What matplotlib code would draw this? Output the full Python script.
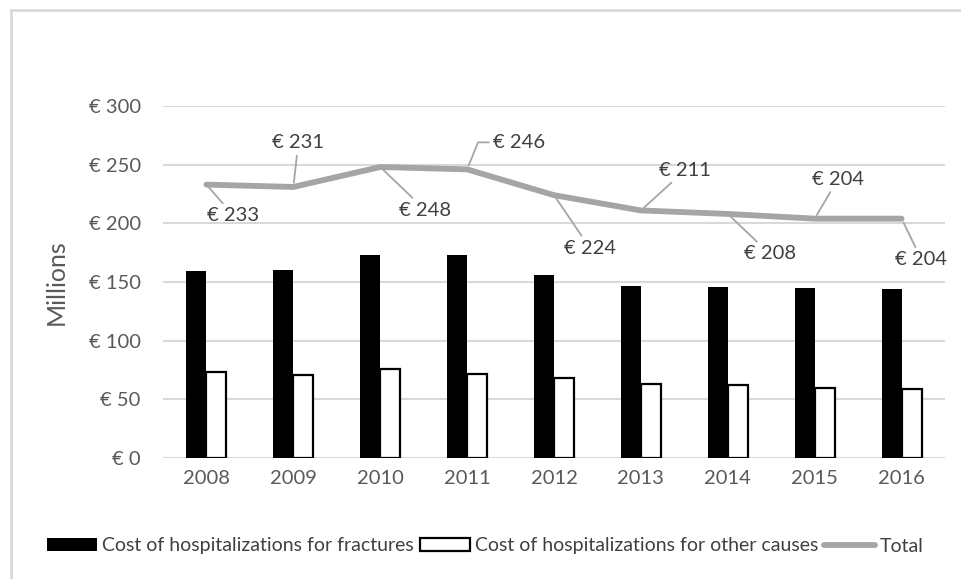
import matplotlib.pyplot as plt
import numpy as np
from matplotlib.lines import Line2D

plt.rcParams['font.family'] = ['Lato', 'DejaVu Sans']

years = ['2008', '2009', '2010', '2011', '2012', '2013', '2014', '2015', '2016']
fractures = [159, 160, 173, 173, 156, 147, 146, 145, 144]
other_causes = [73, 71, 76, 72, 68, 63, 62, 60, 59]
total = [233, 231, 248, 246, 224, 211, 208, 204, 204]
yticks = [0, 50, 100, 150, 200, 250, 300]

# label offsets (pixels) from each point of the total line
label_offsets = [(27, 31), (5, -44), (45, 43), (52, -27), (36, 53),
                 (44, -40), (42, 40), (23, -39), (20, 41)]

fig = plt.figure(figsize=(9.61, 5.79), dpi=100)
ax = fig.add_axes([163 / 961, 1 - 458 / 579, 782 / 961, 352 / 579])

x = np.arange(len(years))
w = 0.23
b1 = ax.bar(x - w / 2, fractures, w, color='black', edgecolor='black', linewidth=0,
            label='Cost of hospitalizations for fractures', zorder=3)
b2 = ax.bar(x + w / 2, other_causes, w, color='white', edgecolor='black', linewidth=1.6,
            label='Cost of hospitalizations for other causes', zorder=3)
ln, = ax.plot(x, total, color='#A5A5A5', linewidth=4.2, solid_capstyle='round',
              label='Total', zorder=4)

for i, (v, (dx, dy)) in enumerate(zip(total, label_offsets)):
    if i == 3:
        cs = 'angle,angleA=0,angleB=68,rad=0'
    else:
        cs = 'arc3'
    ax.annotate(f'€ {v}', xy=(i, v), xytext=(dx, -dy), textcoords='offset pixels',
                ha='center', va='center', fontsize=14.5, color='#404040',
                arrowprops=dict(arrowstyle='-', color='#A5A5A5', lw=1.3,
                                shrinkA=1, shrinkB=3, connectionstyle=cs),
                zorder=5)

ax.set_xlim(-0.5, len(years) - 0.5)
ax.set_ylim(0, 300)
ax.set_yticks(yticks)
ax.set_yticklabels([f'€ {t}' for t in yticks])
ax.set_xticks(x)
ax.set_xticklabels(years)
ax.tick_params(axis='both', length=0, labelsize=14.5, colors='#595959')
ax.tick_params(axis='y', pad=16)
ax.tick_params(axis='x', pad=9)
ax.grid(axis='y', color='#D9D9D9', linewidth=1.5, zorder=0)
for s in ax.spines.values():
    s.set_visible(False)
ax.set_ylabel('Millions', fontsize=18, color='#595959')
ax.yaxis.set_label_coords(-95 / 782, 0.5)

# frame lines at the left and top of the image
fig.add_artist(Line2D([11 / 961, 11 / 961], [0, 1 - 10 / 579], color='#D9D9D9', lw=2))
fig.add_artist(Line2D([11 / 961, 1], [1 - 10 / 579, 1 - 10 / 579], color='#D9D9D9', lw=2))

fig.legend([b1, b2, ln],
           ['Cost of hospitalizations for fractures',
            'Cost of hospitalizations for other causes', 'Total'],
           loc='center', bbox_to_anchor=(485 / 961, 1 - 546 / 579),
           ncol=3, frameon=False, fontsize=14, handlelength=2.6, handleheight=0.62,
           handletextpad=0.25, columnspacing=0.3, labelcolor='#404040')

fig.savefig('out.png', dpi=100)
